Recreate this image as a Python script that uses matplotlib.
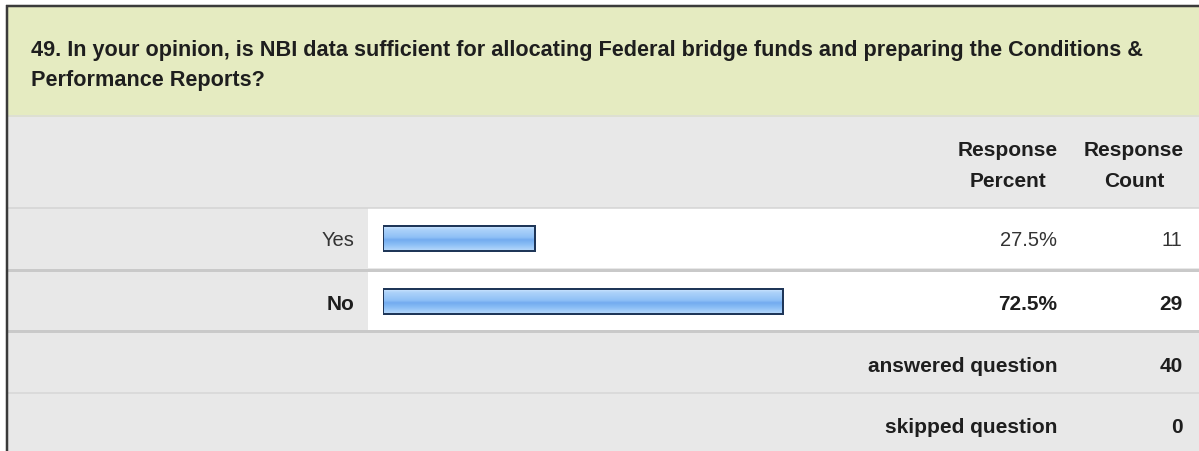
import matplotlib
matplotlib.use("Agg")
import matplotlib.pyplot as plt
import numpy as np
from matplotlib.colors import to_rgb

plt.rcParams['font.family'] = ['Liberation Sans', 'DejaVu Sans']

# Survey question and results
question_lines = [
    "49. In your opinion, is NBI data sufficient for allocating Federal bridge funds and preparing the Conditions &",
    "Performance Reports?",
]
answers = ["Yes", "No"]
percents = [27.5, 72.5]
counts = [11, 29]
answered = 40
skipped = 0

W, H = 1199, 452
fig = plt.figure(figsize=(W / 100, H / 100), dpi=100)
ax = fig.add_axes([0, 0, 1, 1])
ax.set_xlim(0, W)
ax.set_ylim(H, 0)
ax.axis("off")

PX = 0.72  # one pixel in points at 100 dpi

# Table backgrounds
ax.add_patch(plt.Rectangle((7, 7), W - 7, 109, facecolor="#E5EBC1", edgecolor="none", zorder=0))
ax.add_patch(plt.Rectangle((7, 116), W - 7, H - 116, facecolor="#E8E8E8", edgecolor="none", zorder=0))
for top, bottom in [(209, 269), (272, 330.5)]:
    ax.add_patch(plt.Rectangle((368, top), W - 368, bottom - top, facecolor="white",
                               edgecolor="none", zorder=0.5))

# Row separators
for y, c, lw in [(116.5, "#DADDCB", 1.5), (208.5, "#D4D4D4", 1.5), (270.5, "#C9C9C9", 3),
                 (331.5, "#C9C9C9", 3), (393.5, "#D6D6D6", 1.5)]:
    ax.plot([7, W], [y, y], color=c, lw=lw * PX, solid_capstyle="butt", zorder=1)

# Outer frame (left and top edges)
ax.plot([7, 7], [6, H], color="#3A3A3A", lw=2.5 * PX, solid_capstyle="butt", zorder=5)
ax.plot([6, W], [7, 7], color="#3A3A3A", lw=2.5 * PX, solid_capstyle="butt", zorder=5)

# Question text
dark = "#1E1E1E"
ax.text(31, 56, question_lines[0], fontsize=15.6, fontweight="bold", color=dark, va="baseline", ha="left")
ax.text(31, 86, question_lines[1], fontsize=15.6, fontweight="bold", color=dark, va="baseline", ha="left")

# Column headers
for x, l1, l2 in [(1008, "Response", "Percent"), (1134, "Response", "Count")]:
    ax.text(x, 156, l1, fontsize=15, fontweight="bold", color=dark, ha="center", va="baseline")
    ax.text(x, 187, l2, fontsize=15, fontweight="bold", color=dark, ha="center", va="baseline")

# Answer rows
baselines = [246, 310]
for i, (name, pct, cnt) in enumerate(zip(answers, percents, counts)):
    bold = pct == max(percents)
    fw = "bold" if bold else "normal"
    col = dark if bold else "#333333"
    fs = 15 if bold else 14.5
    ax.text(354, baselines[i], name, fontsize=fs, fontweight=fw, color=col, ha="right", va="baseline")
    ax.text(1057, baselines[i], f"{pct:.1f}%", fontsize=fs, fontweight=fw, color=col, ha="right", va="baseline")
    ax.text(1182, baselines[i], f"{cnt}", fontsize=fs, fontweight=fw, color=col, ha="right", va="baseline")

# Summary rows
ax.text(1057, 372, "answered question", fontsize=15, fontweight="bold", color=dark, ha="right", va="baseline")
ax.text(1183, 372, f"{answered}", fontsize=15, fontweight="bold", color=dark, ha="right", va="baseline")
ax.text(1057, 433, "skipped question", fontsize=15, fontweight="bold", color=dark, ha="right", va="baseline")
ax.text(1183, 433, f"{skipped}", fontsize=15, fontweight="bold", color=dark, ha="right", va="baseline")

# Bar area: percent scale over the two answer rows
bx0, bw = 383, 552
by0, by1 = 208.5, 333.5
bax = fig.add_axes([bx0 / W, 1 - by1 / H, bw / W, (by1 - by0) / H])
bax.set_xlim(0, 100)
bax.set_ylim(1.5, -0.5)
bax.axis("off")
bax.patch.set_alpha(0)

ypos = np.arange(len(answers))
bh = 0.4
bars = bax.barh(ypos, percents, height=bh, left=0, facecolor="none",
                edgecolor="#1F3658", linewidth=2 * PX, zorder=3)

# Glossy vertical gradient inside each bar
stops = [(0.0, "#CFE6FE"), (0.12, "#AED3FA"), (0.45, "#8FC0F6"), (0.55, "#72ABEF"),
         (0.75, "#8CBFF6"), (1.0, "#B9DAFB")]
n = 64
t = np.linspace(0, 1, n)
pos = [s[0] for s in stops]
cols = np.array([to_rgb(s[1]) for s in stops])
grad = np.stack([np.interp(t, pos, cols[:, k]) for k in range(3)], axis=-1)[:, None, :]
for bar, y, pct in zip(bars, ypos, percents):
    im = bax.imshow(grad, extent=(0, pct, y + bh / 2, y - bh / 2), origin="upper",
                    aspect="auto", interpolation="bilinear", zorder=2)
    im.set_clip_path(bar)
bax.set_xlim(0, 100)
bax.set_ylim(1.5, -0.5)

fig.savefig("out.png", dpi=100)
